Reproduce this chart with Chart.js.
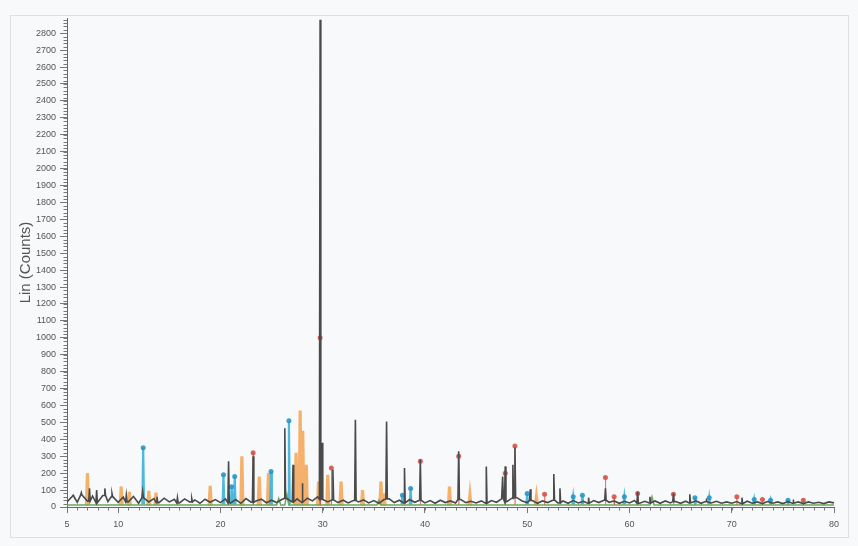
<!DOCTYPE html>
<html>
<head>
<meta charset="utf-8">
<script src="https://cdn.jsdelivr.net/npm/chart.js@4"></script>
<style>
  html, body { margin: 0; padding: 0; background: #f8f9fb; }
  #xrd-chart { display: block; }
</style>
</head>
<body>
<canvas id="xrd-chart" width="858" height="546"></canvas>
<script>
// axis ticks
const xTicks = [5, 10, 20, 30, 40, 50, 60, 70, 80];
const yTicks = [0, 100, 200, 300, 400, 500, 600, 700, 800, 900, 1000, 1100, 1200, 1300, 1400,
    1500, 1600, 1700, 1800, 1900, 2000, 2100, 2200, 2300, 2400, 2500, 2600, 2700, 2800];

// measured scan background, 5.0 .. 80.0 deg in 0.5 deg steps
const bgStart = 5;
const bgStep = 0.5;
const bgCounts = [
    30, 62, 28, 70, 35, 65, 25, 68, 32, 60,
    28, 58, 30, 62, 22, 55, 30, 50, 26, 52,
    30, 45, 24, 48, 30, 42, 22, 46, 28, 44,
    26, 48, 24, 44, 22, 50, 28, 36, 46, 25,
    40, 26, 44, 50, 30, 48, 28, 52, 36, 60,
    45, 30, 42, 26, 40, 24, 38, 30, 42, 24,
    38, 22, 44, 48, 26, 40, 24, 44, 28, 40,
    24, 38, 22, 40, 26, 36, 24, 44, 26, 34,
    24, 36, 22, 38, 28, 48, 32, 52, 55, 36,
    26, 38, 22, 36, 26, 40, 24, 36, 22, 38,
    24, 34, 22, 38, 26, 40, 28, 36, 22, 34,
    24, 38, 22, 34, 24, 36, 22, 36, 24, 32,
    22, 34, 24, 36, 22, 32, 24, 34, 22, 30,
    22, 32, 20, 34, 22, 30, 20, 32, 22, 30,
    20, 32, 22, 30, 20, 30, 22, 28, 20, 30,
    24
];

// peaks [2-theta, counts]
const scanPeaks = [
    [5.6, 70], [6.4, 85], [7.2, 110], [7.9, 100], [8.7, 110], [9.4, 80], [10.8, 70],
    [12.4, 90], [13.8, 60], [15.8, 55], [17.2, 50],
    [20.8, 270], [23.2, 300], [26.3, 465], [27.1, 250], [28.0, 140],
    [29.75, 2880], [29.95, 380], [31.0, 220], [33.2, 515], [36.25, 505],
    [38.0, 230], [39.55, 280], [43.3, 330], [46.0, 240], [47.6, 180], [47.85, 240],
    [48.6, 250], [48.8, 350], [50.3, 105], [52.6, 195], [53.2, 110], [56.0, 55],
    [57.65, 110], [60.8, 90], [62.0, 60], [64.3, 80], [65.9, 75], [67.5, 50],
    [71.0, 55], [76.0, 45]
];
const orangePeaks = [
    [7.0, 200], [10.3, 120], [11.1, 90], [13.0, 95], [13.7, 85], [19.0, 125],
    [22.1, 300], [23.8, 180], [24.7, 200], [27.4, 320], [27.8, 570], [28.05, 450],
    [28.4, 250], [29.6, 150], [30.5, 190], [31.8, 150], [33.9, 100], [35.7, 150],
    [36.0, 80], [42.4, 120], [44.4, 70], [50.9, 60]
];
const cyanPeaks = [
    [12.45, 350], [20.3, 190], [21.1, 120], [21.4, 180], [24.95, 210], [26.7, 510],
    [37.8, 70], [38.6, 110], [50.0, 80], [54.5, 60], [55.4, 70], [59.5, 60],
    [66.4, 55], [67.8, 55], [72.2, 45], [73.8, 40], [75.5, 40]
];
const redPeaks = [
    [23.2, 320], [29.75, 1000], [30.85, 230], [39.55, 270], [43.3, 300], [47.85, 200],
    [48.8, 360], [51.7, 75], [57.65, 175], [58.5, 60], [60.8, 80], [64.3, 75],
    [70.5, 60], [73.0, 45], [77.0, 40]
];
const greenX = [5, 25.5, 25.7, 25.9, 26.3, 26.5, 26.7, 35.3, 35.5, 35.7, 62.0, 62.2, 62.4, 80];
const greenY = [12, 12, 50, 12, 12, 75, 12, 12, 40, 12, 12, 60, 12, 12];

function sticks(peaks, half, base) {
    const out = [];
    peaks.forEach(([p, h]) => {
        out.push({ x: p - half, y: base }, { x: p, y: h, top: true }, { x: p + half, y: base }, { x: p + half, y: null });
    });
    return out;
}

function scanPoints() {
    const out = bgCounts.map((c, i) => ({ x: bgStart + i * bgStep, y: c }));
    scanPeaks.forEach(([p, h]) => {
        const b = bgCounts[Math.round((p - bgStart) / bgStep)];
        out.push({ x: p - 0.07, y: b }, { x: p, y: h }, { x: p + 0.07, y: b });
    });
    return out.sort((a, b) => a.x - b.x);
}

const markerRadius = (ctx) => (ctx.raw && ctx.raw.top ? 2.5 : 0);

// faint paper frame + background
const paperPlugin = {
    id: 'paper',
    beforeDraw(chart) {
        const c = chart.ctx;
        c.save();
        c.fillStyle = '#f8f9fb';
        c.fillRect(0, 0, chart.width, chart.height);
        c.strokeStyle = '#dcdfe3';
        c.lineWidth = 1;
        c.strokeRect(10.5, 15.5, 838, 522);
        c.restore();
    }
};

// short minor ticks on both axes
const minorTicksPlugin = {
    id: 'minorTicks',
    afterDraw(chart) {
        const c = chart.ctx;
        const xs = chart.scales.x;
        const ys = chart.scales.y;
        c.save();
        c.strokeStyle = '#777';
        c.lineWidth = 1;
        c.beginPath();
        for (let v = 20; v <= 2880; v += 20) {
            const py = Math.round(ys.getPixelForValue(v)) + 0.5;
            c.moveTo(ys.right - 3.5, py);
            c.lineTo(ys.right, py);
        }
        for (let v = 6; v < 80; v += 1) {
            const px = Math.round(xs.getPixelForValue(v)) + 0.5;
            c.moveTo(px, xs.top);
            c.lineTo(px, xs.top + 3.5);
        }
        c.stroke();
        c.restore();
    }
};

const ctx = document.getElementById('xrd-chart');
new Chart(ctx, {
    type: 'line',
    data: {
        datasets: [
            {
                label: 'Scan',
                data: scanPoints(),
                borderColor: '#4a4a4a',
                borderWidth: 1.6,
                pointRadius: 0,
                order: 0
            },
            {
                label: 'Red phase',
                data: sticks(redPeaks, 0.03, 15),
                borderColor: 'rgba(214, 82, 70, 0.55)',
                borderWidth: 1,
                pointRadius: markerRadius,
                pointBackgroundColor: 'rgba(214, 82, 70, 0.9)',
                pointBorderWidth: 0,
                spanGaps: false,
                order: 1
            },
            {
                label: 'Green',
                data: greenX.map((x, i) => ({ x, y: greenY[i] })),
                borderColor: '#6aa85a',
                borderWidth: 1.5,
                pointRadius: 0,
                order: 2
            },
            {
                label: 'Cyan phase',
                data: sticks(cyanPeaks, 0.08, 15),
                borderColor: 'rgba(58, 176, 216, 0.9)',
                borderWidth: 2.2,
                pointRadius: markerRadius,
                pointBackgroundColor: 'rgba(40, 150, 200, 0.9)',
                pointBorderWidth: 0,
                spanGaps: false,
                order: 3
            },
            {
                label: 'Orange phase',
                data: sticks(orangePeaks, 0.1, 10),
                borderColor: 'rgba(245, 165, 82, 0.85)',
                borderWidth: 3.2,
                pointRadius: 0,
                spanGaps: false,
                order: 4
            }
        ]
    },
    options: {
        responsive: false,
        animation: false,
        devicePixelRatio: 1,
        layout: { padding: { top: 18, right: 24, left: 0, bottom: 0 } },
        plugins: {
            legend: { display: false },
            tooltip: { enabled: false }
        },
        scales: {
            x: {
                type: 'linear',
                min: 5,
                max: 80,
                afterBuildTicks: (s) => { s.ticks = xTicks.map(v => ({ value: v })); },
                afterFit: (s) => { s.height = 39; },
                ticks: {
                    autoSkip: false,
                    maxRotation: 0,
                    padding: 6,
                    color: '#555',
                    font: { size: 9, family: 'Arial' },
                    callback: (v) => String(v)
                },
                grid: { drawOnChartArea: false, drawTicks: true, tickLength: 6, color: '#777' },
                border: { color: '#666', width: 1 }
            },
            y: {
                type: 'linear',
                min: 0,
                max: 2890,
                afterBuildTicks: (s) => { s.ticks = yTicks.map(v => ({ value: v })); },
                afterFit: (s) => { s.width = 67; },
                ticks: {
                    autoSkip: false,
                    padding: 4,
                    color: '#555',
                    font: { size: 9, family: 'Arial' },
                    callback: (v) => String(v)
                },
                grid: { drawOnChartArea: false, drawTicks: true, tickLength: 7, color: '#777' },
                border: { color: '#666', width: 1 },
                title: {
                    display: true,
                    text: 'Lin (Counts)',
                    color: '#555',
                    font: { size: 15, family: 'Arial' },
                    padding: { top: 17, bottom: 0 }
                }
            }
        }
    },
    plugins: [paperPlugin, minorTicksPlugin]
});
</script>
</body>
</html>
